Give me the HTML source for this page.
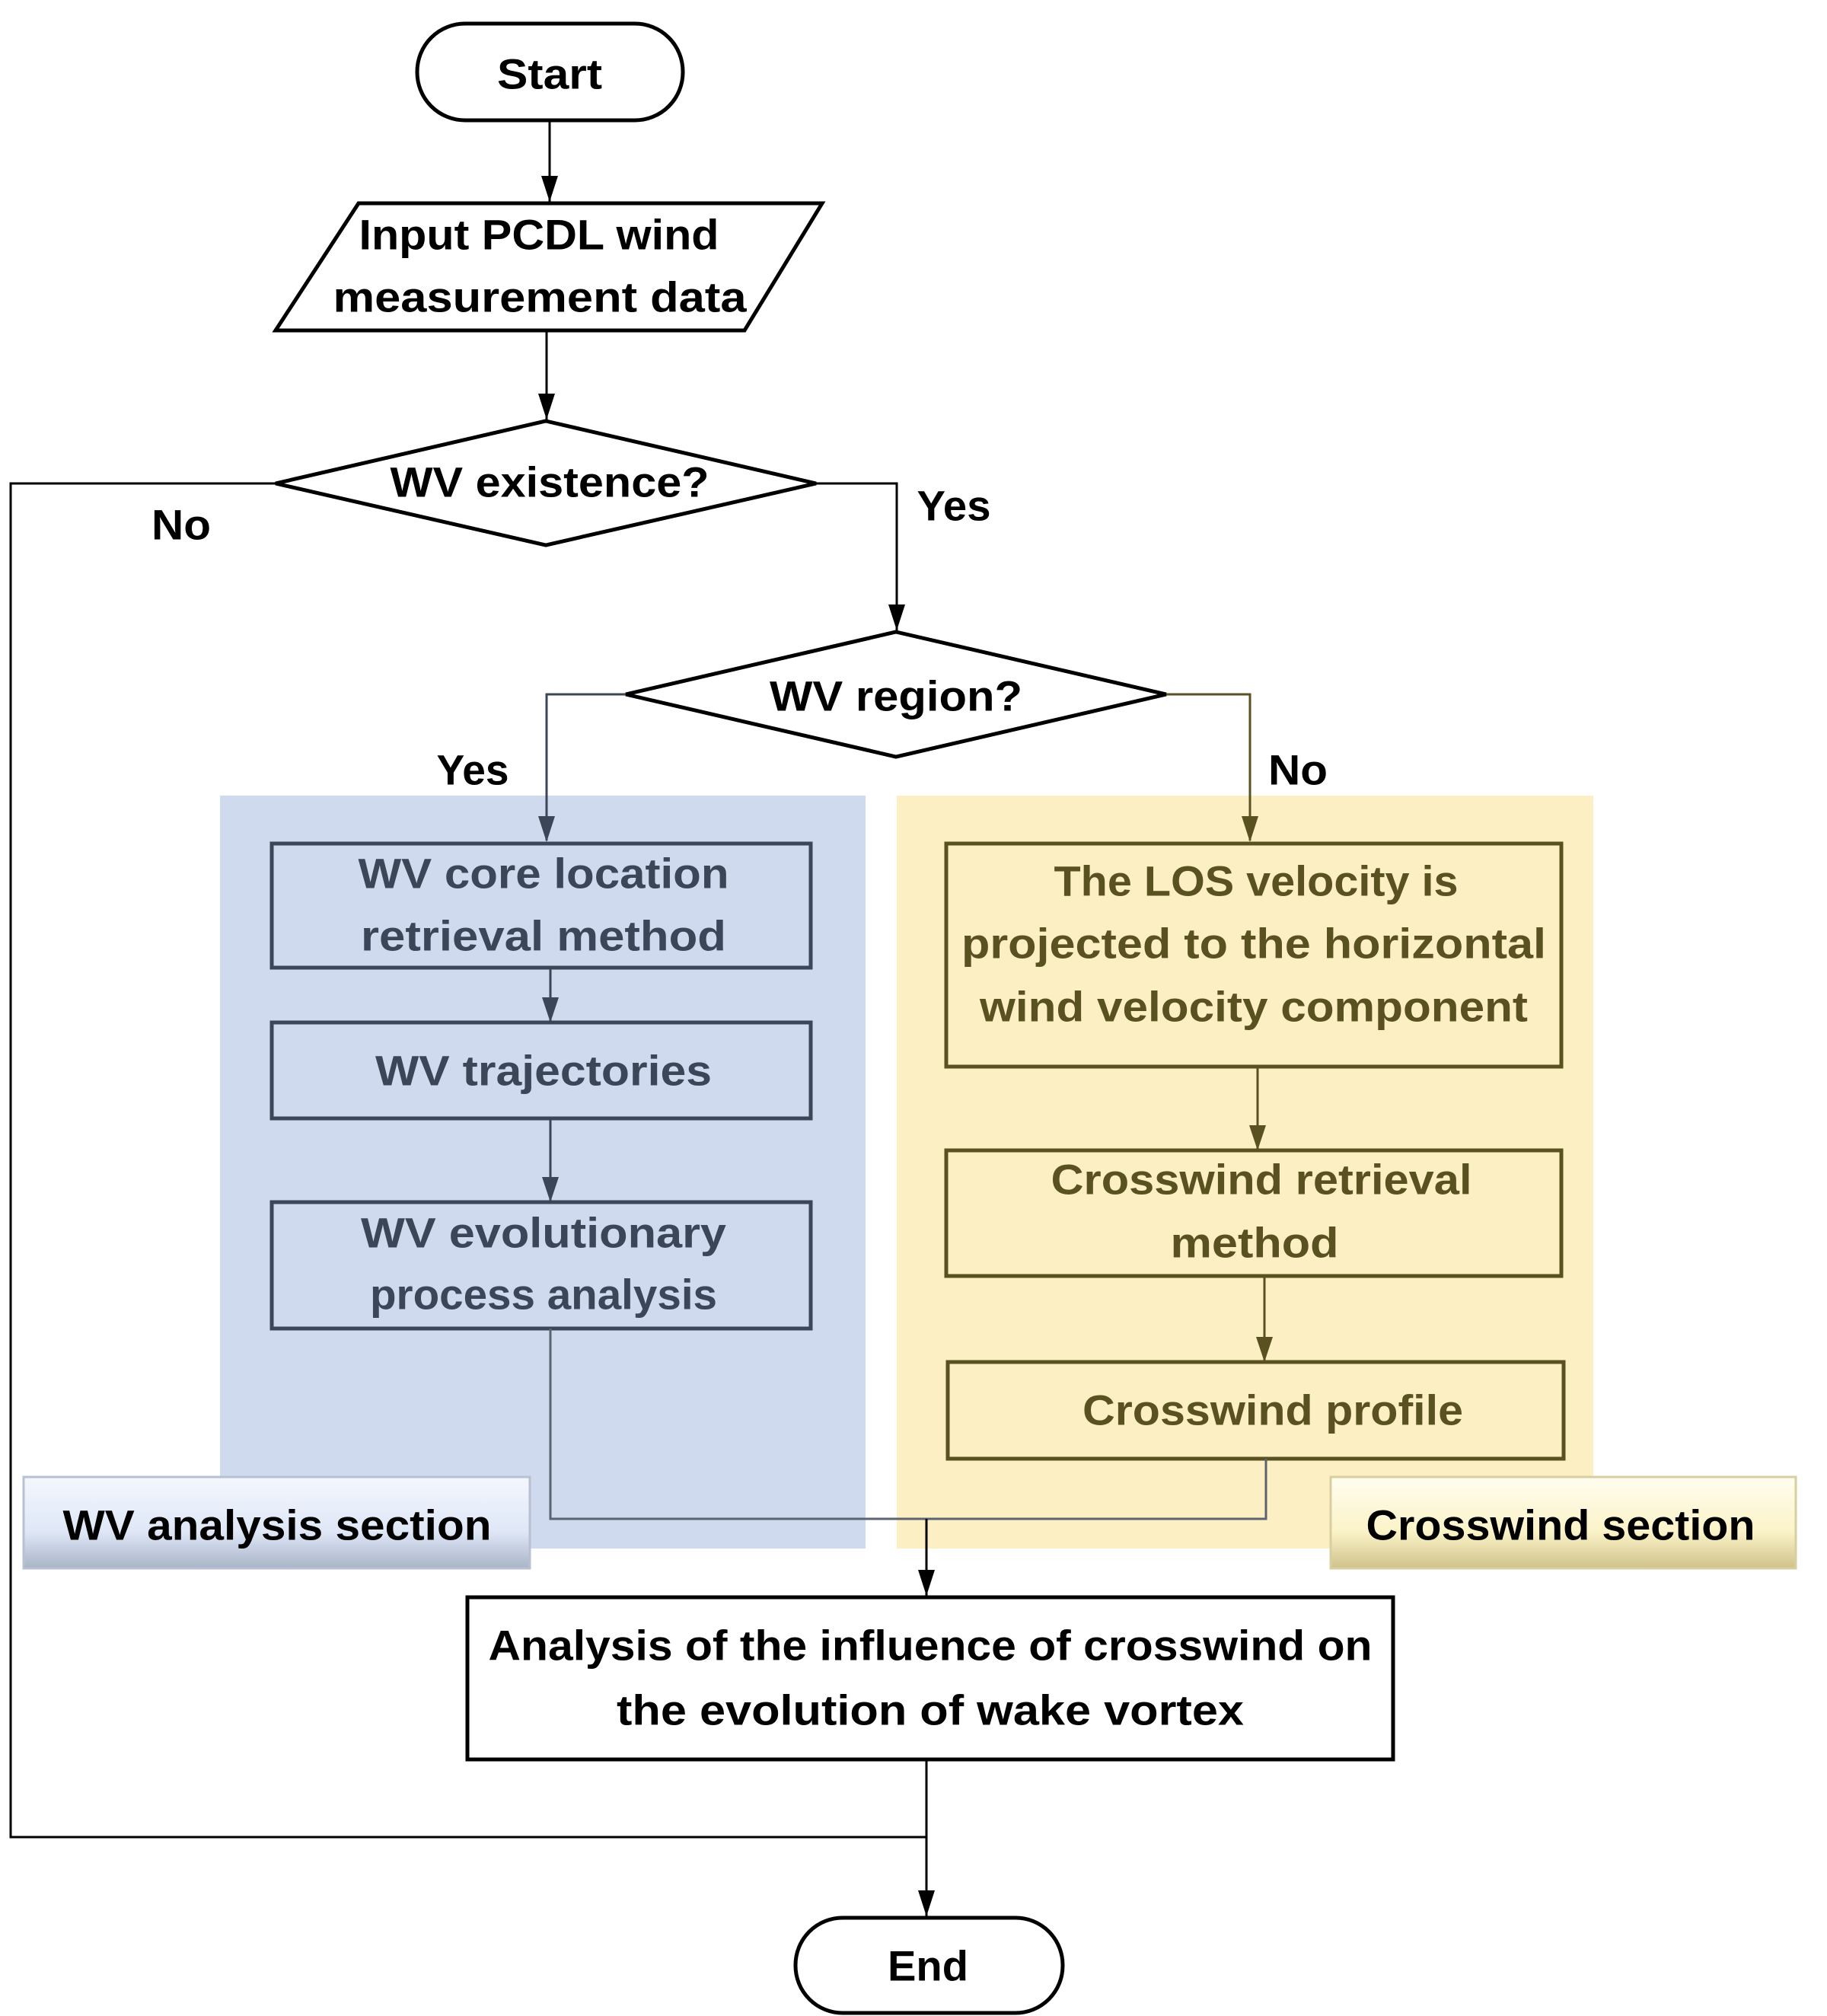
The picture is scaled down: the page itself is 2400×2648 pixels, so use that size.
<!DOCTYPE html>
<html><head><meta charset="utf-8"><style>
html,body{margin:0;padding:0;background:#fff;}
svg{display:block;}
text{font-family:"Liberation Sans",sans-serif;font-weight:bold;font-size:56px;text-anchor:middle;dominant-baseline:central;}
.k{fill:#000}.b{fill:#3b4658}.y{fill:#5a5120}
</style></head><body>
<svg width="2400" height="2648" viewBox="0 0 2400 2648" xmlns="http://www.w3.org/2000/svg">
<defs>
<marker id="ak" viewBox="0 0 34 22" refX="34" refY="11" markerWidth="34" markerHeight="22" markerUnits="userSpaceOnUse" orient="auto"><path d="M0,0 L34,11 L0,22 z" fill="#000"/></marker>
<linearGradient id="gb" x1="0" y1="0" x2="0" y2="1"><stop offset="0" stop-color="#f4f7fd"/><stop offset="0.6" stop-color="#dfe7f7"/><stop offset="1" stop-color="#a9b4c8"/></linearGradient>
<linearGradient id="gy" x1="0" y1="0" x2="0" y2="1"><stop offset="0" stop-color="#fffdf0"/><stop offset="0.6" stop-color="#fbf3c8"/><stop offset="1" stop-color="#cfc28a"/></linearGradient>
</defs>
<!-- panels -->
<rect x="289" y="1045" width="848" height="989" fill="#cfdaee"/>
<rect x="1178" y="1045" width="915" height="989" fill="#fcefc4"/>
<!-- start -->
<rect x="548" y="31" width="349" height="127" rx="63" fill="#fff" stroke="#000" stroke-width="5"/>
<text x="722" y="97" class="k" textLength="138" lengthAdjust="spacingAndGlyphs">Start</text>
<path d="M722,158 V265" stroke="#000" stroke-width="3" fill="none" marker-end="url(#ak)"/>
<polygon points="471,267 1080,267 978,434 362,434" fill="#fff" stroke="#000" stroke-width="5"/>
<text x="708" y="308" class="k" textLength="473" lengthAdjust="spacingAndGlyphs">Input PCDL wind</text>
<text x="709" y="390" class="k" textLength="543" lengthAdjust="spacingAndGlyphs">measurement data</text>
<path d="M718,434 V551" stroke="#000" stroke-width="3" fill="none" marker-end="url(#ak)"/>
<polygon points="717,553 1072,635 717,716 362,635" fill="#fff" stroke="#000" stroke-width="5"/>
<text x="722" y="633" class="k" textLength="419" lengthAdjust="spacingAndGlyphs">WV existence?</text>
<!-- no path -->
<path d="M362,635 H14 V2413 H1217" stroke="#000" stroke-width="3" fill="none"/>
<text x="238" y="689" class="k" textLength="78" lengthAdjust="spacingAndGlyphs">No</text>
<path d="M1072,635 H1178 V828" stroke="#000" stroke-width="3" fill="none" marker-end="url(#ak)"/>
<text x="1253" y="664" class="k" textLength="97" lengthAdjust="spacingAndGlyphs">Yes</text>
<polygon points="1177,830 1532,912 1177,994 822,912" fill="#fff" stroke="#000" stroke-width="5"/>
<text x="1177" y="914" class="k" textLength="332" lengthAdjust="spacingAndGlyphs">WV region?</text>
<path d="M822,912 H718 V1104" stroke="#3b4658" stroke-width="3" fill="none"/>
<polygon points="707,1072 729,1072 718,1106" fill="#3b4658"/>
<path d="M1532,912 H1642 V1104" stroke="#5a5120" stroke-width="3" fill="none"/>
<polygon points="1631,1072 1653,1072 1642,1106" fill="#5a5120"/>
<text x="621" y="1011" class="k" textLength="95" lengthAdjust="spacingAndGlyphs">Yes</text>
<text x="1705" y="1011" class="k" textLength="78" lengthAdjust="spacingAndGlyphs">No</text>
<!-- blue boxes -->
<g stroke="#3b4658" stroke-width="5" fill="#cfdaee">
<rect x="357" y="1108" width="708" height="163"/>
<rect x="357" y="1343" width="708" height="126"/>
<rect x="357" y="1579" width="708" height="166"/>
</g>
<path d="M723,1271 V1341 M723,1469 V1577" stroke="#3b4658" stroke-width="3"/>
<polygon points="712,1310 734,1310 723,1343" fill="#3b4658"/>
<polygon points="712,1546 734,1546 723,1579" fill="#3b4658"/>
<text x="714" y="1147" class="b" textLength="487" lengthAdjust="spacingAndGlyphs">WV core location</text>
<text x="714" y="1229" class="b" textLength="480" lengthAdjust="spacingAndGlyphs">retrieval method</text>
<text x="714" y="1406" class="b" textLength="442" lengthAdjust="spacingAndGlyphs">WV trajectories</text>
<text x="714" y="1619" class="b" textLength="480" lengthAdjust="spacingAndGlyphs">WV evolutionary</text>
<text x="714" y="1700" class="b" textLength="456" lengthAdjust="spacingAndGlyphs">process analysis</text>
<!-- yellow boxes -->
<g stroke="#5a5120" stroke-width="5" fill="#fcefc4">
<rect x="1243" y="1108" width="808" height="293"/>
<rect x="1243" y="1511" width="808" height="165"/>
<rect x="1245" y="1789" width="809" height="127"/>
</g>
<path d="M1652,1401 V1509 M1661,1676 V1787" stroke="#5a5120" stroke-width="3"/>
<polygon points="1641,1478 1663,1478 1652,1511" fill="#5a5120"/>
<polygon points="1650,1756 1672,1756 1661,1789" fill="#5a5120"/>
<text x="1650" y="1157" class="y" textLength="531" lengthAdjust="spacingAndGlyphs">The LOS velocity is</text>
<text x="1647" y="1239" class="y" textLength="768" lengthAdjust="spacingAndGlyphs">projected to the horizontal</text>
<text x="1647" y="1322" class="y" textLength="720" lengthAdjust="spacingAndGlyphs">wind velocity component</text>
<text x="1657" y="1549" class="y" textLength="553" lengthAdjust="spacingAndGlyphs">Crosswind retrieval</text>
<text x="1648" y="1632" class="y" textLength="221" lengthAdjust="spacingAndGlyphs">method</text>
<text x="1672" y="1852" class="y" textLength="500" lengthAdjust="spacingAndGlyphs">Crosswind profile</text>
<!-- merge -->
<path d="M723,1745 V1995 H1663 V1916" stroke="#5b6470" stroke-width="3" fill="none"/>
<path d="M1217,1995 V2096" stroke="#000" stroke-width="3" fill="none" marker-end="url(#ak)"/>
<!-- labels -->
<rect x="31" y="1940" width="665" height="120" fill="url(#gb)" stroke="#b8c1d2" stroke-width="3"/>
<text x="364" y="2003" class="k" textLength="563" lengthAdjust="spacingAndGlyphs">WV analysis section</text>
<rect x="1748" y="1940" width="611" height="120" fill="url(#gy)" stroke="#d8cf9e" stroke-width="3"/>
<text x="2050" y="2003" class="k" textLength="511" lengthAdjust="spacingAndGlyphs">Crosswind section</text>
<!-- final -->
<rect x="614" y="2098" width="1216" height="213" fill="#fff" stroke="#000" stroke-width="5"/>
<text x="1222" y="2161" class="k" textLength="1161" lengthAdjust="spacingAndGlyphs">Analysis of the influence of crosswind on</text>
<text x="1222" y="2246" class="k" textLength="824" lengthAdjust="spacingAndGlyphs">the evolution of wake vortex</text>
<path d="M1217,2311 V2517" stroke="#000" stroke-width="3" fill="none" marker-end="url(#ak)"/>
<rect x="1045" y="2519" width="351" height="125" rx="62" fill="#fff" stroke="#000" stroke-width="5"/>
<text x="1219" y="2582" class="k" textLength="106" lengthAdjust="spacingAndGlyphs">End</text>
</svg>
</body></html>
